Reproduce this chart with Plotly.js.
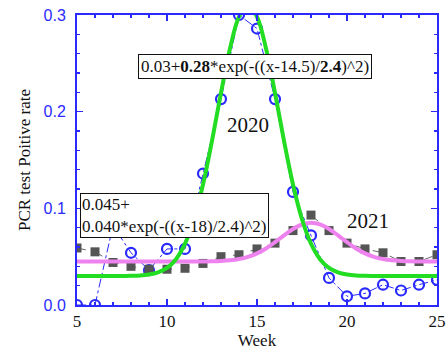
<!DOCTYPE html>
<html><head><meta charset="utf-8">
<script src="https://cdn.plot.ly/plotly-3.0.1.min.js"></script>
<style>html,body{margin:0;padding:0;background:#fff;}#chart{width:446px;height:356px;}</style>
</head><body><div id="chart"></div>
<script>
// Weekly data
var weeks = [5,6,7,8,9,10,11,12,13,14,15,16,17,18,19,20,21,22,23,24,25];
var rate2020 = [0.000,0.000,0.082,0.054,0.036,0.058,0.058,0.136,0.213,0.300,0.286,0.213,0.117,0.072,0.028,0.009,0.012,0.021,0.015,0.021,0.026];
var rate2021 = [0.059,0.055,0.044,0.040,0.037,0.037,0.038,0.043,0.050,0.052,0.058,0.064,0.077,0.093,0.077,0.064,0.058,0.054,0.045,0.045,0.052];
// Fitted curves (half-week steps)
var fitWeeks = [5,5.5,6,6.5,7,7.5,8,8.5,9,9.5,10,10.5,11,11.5,12,12.5,13,13.5,14,14.5,15,15.5,16,16.5,17,17.5,18,18.5,19,19.5,20,20.5,21,21.5,22,22.5,23,23.5,24,24.5,25];
var fit2020 = [0.030,0.030,0.030,0.030,0.030,0.030,0.0302,0.0305,0.0315,0.0337,0.0383,0.0474,0.0634,0.0887,0.1246,0.1698,0.2195,0.2654,0.2981,0.310,0.2981,0.2654,0.2195,0.1698,0.1246,0.0887,0.0634,0.0474,0.0383,0.0337,0.0315,0.0305,0.0302,0.0301,0.030,0.030,0.030,0.030,0.030,0.030,0.030];
var fit2021 = [0.045,0.045,0.045,0.045,0.045,0.045,0.045,0.045,0.045,0.045,0.045,0.045,0.0450,0.0450,0.0451,0.0452,0.0455,0.0462,0.0475,0.0498,0.0534,0.0585,0.0650,0.0721,0.0786,0.0833,0.085,0.0833,0.0786,0.0721,0.0650,0.0585,0.0534,0.0498,0.0475,0.0462,0.0455,0.0452,0.0451,0.0450,0.045];
var xTicks = [5,10,15,20,25];
var yTicks = [0.0,0.1,0.2,0.3];
var yTickText = ["0.0","0.1","0.2","0.3"];
var fitLabel2020 = "0.03+<b>0.28</b>*exp(-((x-14.5)/<b>2.4</b>)^2)";
var fitLabel2021 = "0.045+<br>0.040*exp(-((x-18)/2.4)^2)";

var blue = "#2a2aff";
var serif = "Liberation Serif, Times New Roman, serif";
var sans = "Liberation Sans, Arial, sans-serif";

var traces = [
  {x: weeks, y: rate2020, mode: "lines+markers", type: "scatter",
   line: {color: blue, width: 1, dash: "dashdot"},
   marker: {symbol: "circle-open", size: 10, color: blue, line: {width: 2.2, color: blue}}},
  {x: weeks, y: rate2021, mode: "lines+markers", type: "scatter",
   line: {color: "#666", width: 1, dash: "dash"},
   marker: {symbol: "square", size: 9, color: "#555"}},
  {x: fitWeeks, y: fit2021, mode: "lines", type: "scatter",
   line: {color: "#ee82ee", width: 4, shape: "spline"}},
  {x: fitWeeks, y: fit2020, mode: "lines", type: "scatter",
   line: {color: "#22dd22", width: 4, shape: "spline"}}
];

var axisCommon = {
  showline: true, linecolor: blue, linewidth: 2, mirror: "ticks",
  ticks: "inside", ticklen: 6, tickwidth: 1.5, tickcolor: blue,
  showgrid: false, zeroline: false, ticklabeloverflow: "allow"
};

var PW = 360;
var layout = {
  width: 446, height: 356,
  margin: {l: 77, r: 9, t: 15, b: 51, pad: 0},
  paper_bgcolor: "#fff", plot_bgcolor: "#fff",
  showlegend: false,
  xaxis: Object.assign({}, axisCommon, {
    range: [5, 25], tickvals: xTicks, ticktext: xTicks.map(String),
    tickfont: {family: serif, size: 17, color: "#111"},
    minor: {dtick: 1, tick0: 5, ticks: "inside", ticklen: 3, tickcolor: blue, tickwidth: 1.2},
    title: {text: "Week", font: {family: serif, size: 17, color: "#111"}, standoff: 4}
  }),
  yaxis: Object.assign({}, axisCommon, {
    range: [0, 0.3], tickvals: yTicks, ticktext: yTickText,
    tickfont: {family: sans, size: 16, color: blue}, ticklabelstandoff: 6,
    minor: {dtick: 0.02, tick0: 0, ticks: "inside", ticklen: 3, tickcolor: blue, tickwidth: 1.2},
    title: {text: "PCR test Poitive rate", font: {family: serif, size: 17, color: "#111"}, standoff: 9}
  }),
  annotations: [
    {xref: "paper", yref: "paper", x: (255-77)/PW, y: (305-66)/290, xanchor: "center", yanchor: "middle",
     text: fitLabel2020, showarrow: false, align: "center",
     font: {family: serif, size: 17, color: "#111"},
     bgcolor: "#fff", bordercolor: "#111", borderwidth: 1, borderpad: 2},
    {xref: "paper", yref: "paper", x: (80-77)/PW, y: (305-193)/290, xanchor: "left", yanchor: "top",
     text: fitLabel2021, showarrow: false, align: "left",
     font: {family: serif, size: 17, color: "#111"},
     bgcolor: "#fff", bordercolor: "#111", borderwidth: 1, borderpad: 1},
    {xref: "paper", yref: "paper", x: (248-77)/PW, y: (305-125)/290, xanchor: "center", yanchor: "middle",
     text: "2020", showarrow: false, font: {family: serif, size: 21, color: "#111"}},
    {xref: "paper", yref: "paper", x: (368-77)/PW, y: (305-221)/290, xanchor: "center", yanchor: "middle",
     text: "2021", showarrow: false, font: {family: serif, size: 21, color: "#111"}}
  ]
};

Plotly.newPlot("chart", traces, layout, {staticPlot: true, displayModeBar: false});
</script>
</body></html>
